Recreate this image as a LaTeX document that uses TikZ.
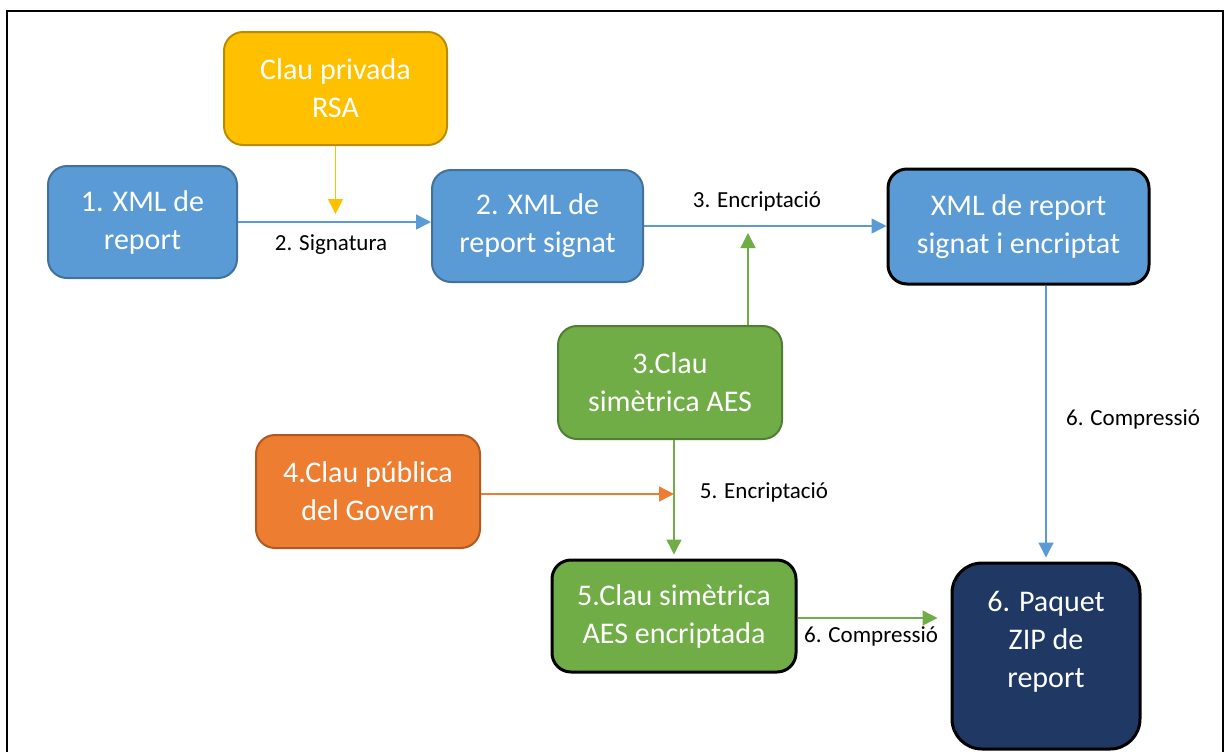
\documentclass[tikz,border=0pt]{standalone}
\usepackage{fontspec}
\setmainfont{Carlito}
\usetikzlibrary{arrows.meta}

\definecolor{keyblue}{HTML}{5B9BD5}
\definecolor{keybluedark}{HTML}{41719C}
\definecolor{keyyellow}{HTML}{FFC000}
\definecolor{keyyellowdark}{HTML}{BC8C00}
\definecolor{keygreen}{HTML}{70AD47}
\definecolor{keygreendark}{HTML}{507E32}
\definecolor{keyorange}{HTML}{ED7D31}
\definecolor{keyorangedark}{HTML}{AE5A21}
\definecolor{keynavy}{HTML}{203864}

\tikzset{
  keybox/.style={rounded corners=9.5pt, line width=1pt, align=center, text=white,
    font=\fontsize{15}{19}\selectfont, inner sep=2pt},
  flow/.style={line width=0.7pt, -{Triangle[length=7.5pt,width=7.5pt]}},
  steplabel/.style={font=\fontsize{11.5}{14}\selectfont}
}

\begin{document}
\begin{tikzpicture}[x=0.5pt, y=-0.5pt]
      % Fix the page size
      \useasboundingbox (0,0) rectangle (1228,751);
      \draw[line width=1.2pt] (7,11) rectangle (1223,780);

      % Draw the boxes
      \node[keybox, fill=keyyellow, draw=keyyellowdark, minimum width=111.5pt, minimum height=56.5pt]
        (rsa) at (335.5,88.5) {Clau privada\\RSA};
      \node[keybox, fill=keyblue, draw=keybluedark, minimum width=94.5pt, minimum height=56pt]
        (xmlrep) at (142.5,222) {1. XML de\\report};
      \node[keybox, fill=keyblue, draw=keybluedark, minimum width=105.5pt, minimum height=56pt]
        (xmlsig) at (537.5,226) {2. XML de\\report signat};
      \node[keybox, fill=keyblue, draw=black, line width=1.5pt, minimum width=130.5pt, minimum height=57.5pt]
        (xmlenc) at (1018.5,226.5) {XML de report\\signat i encriptat};
      \node[keybox, fill=keygreen, draw=keygreendark, minimum width=112pt, minimum height=56.5pt]
        (aes) at (670,382.5) {3.Clau\\simètrica AES};
      \node[keybox, fill=keyorange, draw=keyorangedark, minimum width=112pt, minimum height=56.5pt]
        (gov) at (368,491.5) {4.Clau pública\\del Govern};
      \node[keybox, fill=keygreen, draw=black, line width=1.5pt, minimum width=122pt, minimum height=56pt]
        (aesenc) at (674,616) {5.Clau simètrica\\AES encriptada};
      \node[keybox, fill=keynavy, draw=black, line width=1.5pt, rounded corners=15pt,
        minimum width=94pt, minimum height=93pt] (zip) at (1046,656) {};
      \node[keybox] (ziptext) at (1046,642) {6. Paquet\\ZIP de\\report};

      % Free ends of the arrows
      \coordinate (signin) at (335.5,214);
      \coordinate (encin) at (748,233);
      \coordinate (govin) at (674,494);

      % Draw the arrows
      \draw[flow, keyblue] (xmlrep.east) -- (xmlrep.east -| xmlsig.west);
      \draw[flow, keyyellow] (rsa.south) -- (signin);
      \draw[flow, keyblue] (xmlsig.east) -- (xmlsig.east -| xmlenc.west);
      \draw[flow, keygreen] (encin |- aes.north) -- (encin);
      \draw[flow, keygreen, shorten >=2pt] (aesenc.north |- aes.south) -- (aesenc.north);
      \draw[flow, keyorange] (gov.east |- govin) -- (govin);
      \draw[flow, keygreen, shorten >=6.5pt] (aesenc.east |- 0,618) -- (zip.west |- 0,618);
      \draw[flow, keyblue, shorten >=2pt] (zip.north |- xmlenc.south) -- (zip.north);

      % Label the steps
      \node[steplabel] (lsign) at (331,245) {2. Signatura};
      \node[steplabel] (lenc) at (757,201) {3. Encriptació};
      \node[steplabel] (lcomp) at (1133,419) {6. Compressió};
      \node[steplabel] (lenckey) at (764,492) {5. Encriptació};
      \node[steplabel] (lcompkey) at (871,636) {6. Compressió};
    \end{tikzpicture}
\end{document}
